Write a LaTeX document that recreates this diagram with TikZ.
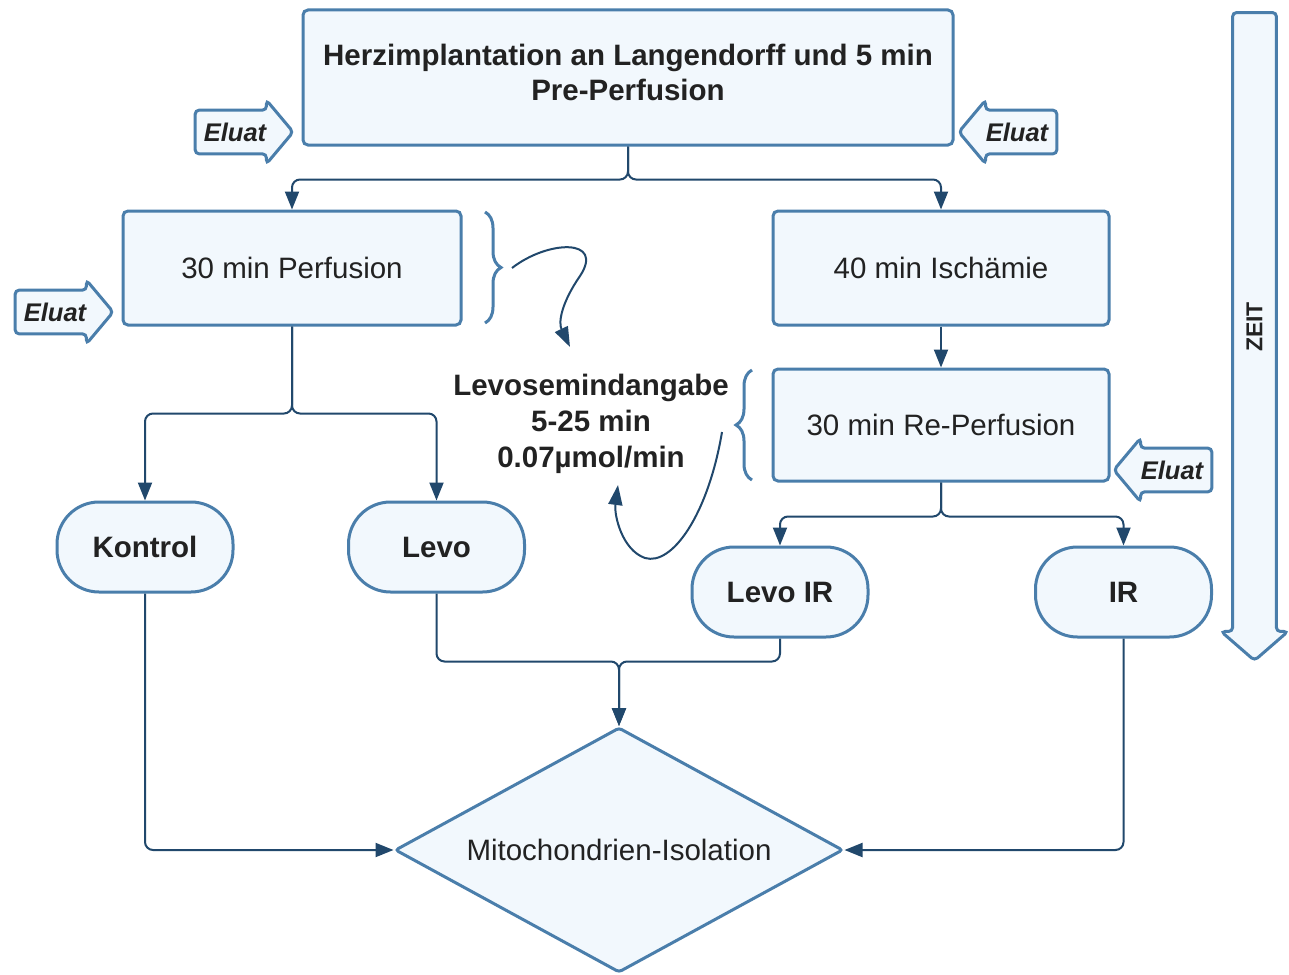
\documentclass[tikz,border=0pt]{standalone}
\usepackage{fontspec}
\setmainfont{Liberation Sans}
\usetikzlibrary{shapes.geometric, shapes.arrows, arrows.meta, positioning, decorations.pathreplacing}
\definecolor{boxblue}{RGB}{74,126,171}
\definecolor{boxfill}{RGB}{242,248,253}
\definecolor{linenavy}{RGB}{33,72,108}
\definecolor{inkgray}{RGB}{34,34,34}

\begin{document}
\begin{tikzpicture}[
    x=1pt, y=-1pt,
    stage/.style={rectangle, rounded corners=5pt, draw=boxblue, fill=boxfill, line width=3pt, text=inkgray, align=center, font=\fontsize{29.5}{35}\selectfont},
    outcome/.style={stage, rounded corners=42pt, minimum width=176pt, minimum height=90pt, font=\fontsize{29.5}{35}\selectfont\bfseries},
    eluat/.style={single arrow, single arrow head extend=10pt, single arrow tip angle=100, minimum height=98pt, inner xsep=4pt, inner ysep=11pt, draw=boxblue, fill=boxfill, line width=3pt, rounded corners=4pt, text=inkgray, font=\fontsize{25.5}{30}\selectfont\bfseries\itshape},
    timeline/.style={single arrow, rotate=90, shape border rotate=180, single arrow head extend=11.5pt, single arrow tip angle=98, minimum height=648pt, inner ysep=12.5pt, draw=boxblue, fill=boxfill, line width=3pt, rounded corners=4pt, text=inkgray, font=\fontsize{23}{28}\selectfont\bfseries},
    bracket/.style={decorate, decoration={brace, amplitude=16pt}, draw=boxblue, line width=3pt},
    conn/.style={draw=linenavy, line width=2pt, rounded corners=8pt, -{Triangle[length=18pt, width=14pt]}},
    infusion/.style={draw=linenavy, line width=2pt, -{Triangle[length=20pt, width=14pt]}}
]
    \useasboundingbox[fill=white] (0,0) rectangle (1289,974);

    % stages
    \node[stage, minimum width=650pt, minimum height=135pt, font=\fontsize{29.5}{35}\selectfont\bfseries] (implant) at (628,77.5) {Herzimplantation an Langendorff und 5 min\\Pre-Perfusion\\[-25pt]};
    \node[stage, minimum width=338pt, minimum height=114pt] (perf) at (292,268) {30 min Perfusion};
    \node[stage, minimum width=336pt, minimum height=114pt] (isch) at (941,268) {40 min Ischämie};
    \node[stage, minimum width=336pt, minimum height=112pt] (reperf) at (941,425) {30 min Re-Perfusion};

    % groups
    \node[outcome] (kontrol) at (145,547) {Kontrol};
    \node[outcome] (levo) at (436.5,547) {Levo};
    \node[outcome] (levoir) at (780,592) {Levo IR};
    \node[outcome] (ir) at (1123.5,592) {IR};

    \node[diamond, draw=boxblue, fill=boxfill, line width=3pt, rounded corners=3pt, minimum width=448pt, minimum height=245pt, inner sep=0pt, aspect=1.83, text=inkgray, font=\fontsize{29.5}{35}\selectfont] (iso) at (619,850) {Mitochondrien-Isolation};

    \node[align=center, text=inkgray, font=\fontsize{29.5}{36}\selectfont\bfseries] (dose) at (591,424) {Levosemindangabe\\5-25 min\\0.07µmol/min};

    % eluat samples
    \node[eluat] (eluatA) at (235,132) {Eluat};
    \node[eluat, shape border rotate=180] (eluatB) at (1017,132) {Eluat};
    \node[eluat] (eluatC) at (55,312) {Eluat};
    \node[eluat, shape border rotate=180] (eluatD) at (1172,470) {Eluat};

    \node[timeline] (zeit) at (1254.5,327) {ZEIT};

    % braces
    \draw[bracket] (485,212) -- (485,323);
    \draw[bracket] (752,480) -- (752,370);
    \coordinate (braceA) at (512,268);
    \coordinate (doseA) at (570,347);
    \coordinate (braceB) at (722,432);
    \coordinate (doseB) at (618,485);
    \draw[infusion] (braceA) .. controls (548,240) and (605,238) .. (580,276) .. controls (562,302) and (558,322) .. (doseA);
    \draw[infusion] (braceB) .. controls (708,515) and (672,566) .. (645,558) .. controls (622,550) and (614,515) .. (doseB);

    % connectors
    \draw[conn] (implant.south) -- ++(0,33) -| (perf.north);
    \draw[conn] (implant.south) -- ++(0,33) -| (isch.north);
    \draw[conn] (isch.south) -- (reperf.north);
    \draw[conn] (perf.south) -- ++(0,87) -| (kontrol.north);
    \draw[conn] (perf.south) -- ++(0,87) -| (levo.north);
    \draw[conn] (reperf.south) -- ++(0,34) -| (levoir.north);
    \draw[conn] (reperf.south) -- ++(0,34) -| (ir.north);
    \draw[conn] (levo.south) -- ++(0,68) -| (iso.north);
    \draw[conn] (levoir.south) -- ++(0,23) -| (iso.north);
    \draw[conn] (kontrol.south) |- (iso.west);
    \draw[conn] (ir.south) |- (iso.east);

\end{tikzpicture}
\end{document}
